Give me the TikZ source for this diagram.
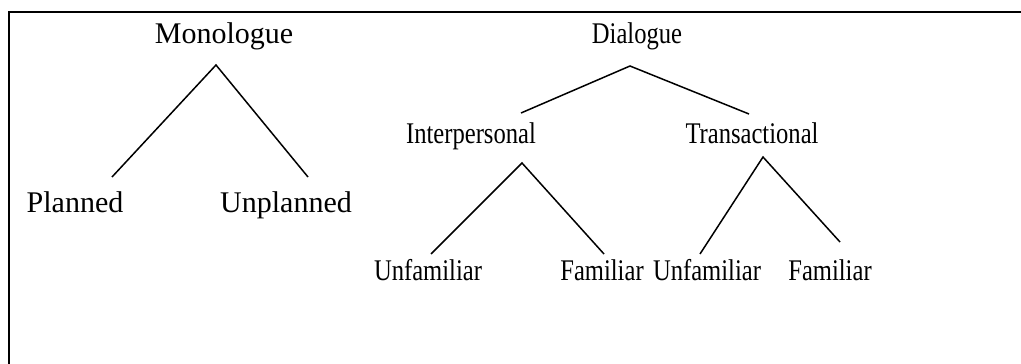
\documentclass[tikz,border=0pt]{standalone}
\usepackage{fontspec}
\setmainfont{Liberation Serif}
\begin{document}
\begin{tikzpicture}[x=1pt,y=-1pt,
  lbl/.style={anchor=base,inner sep=0pt,font=\fontsize{30}{36}\selectfont},
  edge/.style={line width=1.5pt},
  frame/.style={line width=2.6pt}]
\useasboundingbox (0,0) rectangle (1021,364);
% frame (left and top)
\coordinate (fbl) at (9,364);
\coordinate (ftl) at (9,12);
\coordinate (ftr) at (1021,12);
\draw[frame] (fbl) -- (ftl) -- (ftr);
% Monologue tree
\node[lbl] (mono) at (224,43) {Monologue};
\node[lbl] (planned) at (75,212) {Planned};
\node[lbl] (unplanned) at (286,212) {Unplanned};
\coordinate (monoj) at (216,65);
\coordinate (plannedt) at (112,177);
\coordinate (unplannedt) at (308,177);
\draw[edge] (plannedt) -- (monoj) -- (unplannedt);
% Dialogue tree
\newcommand\sq[1]{\scalebox{0.82}[1]{#1}}
\node[lbl] (dia) at (637,43) {\sq{Dialogue}};
\node[lbl] (inter) at (471,143) {\sq{Interpersonal}};
\node[lbl] (trans) at (752,143) {\sq{Transactional}};
\coordinate (diaj) at (630,66);
\coordinate (intert) at (521,113);
\coordinate (transt) at (749,114);
\draw[edge] (intert) -- (diaj) -- (transt);
\node[lbl] (unf1) at (428,280) {\sq{Unfamiliar}};
\node[lbl] (fam1) at (602,280) {\sq{Familiar}};
\node[lbl] (unf2) at (707,280) {\sq{Unfamiliar}};
\node[lbl] (fam2) at (830,280) {\sq{Familiar}};
\coordinate (interj) at (522,163);
\coordinate (unf1t) at (431,254);
\coordinate (fam1t) at (604,254);
\draw[edge] (unf1t) -- (interj) -- (fam1t);
\coordinate (transj) at (763,157);
\coordinate (unf2t) at (700,254);
\coordinate (fam2t) at (840,242);
\draw[edge] (unf2t) -- (transj) -- (fam2t);
\end{tikzpicture}
\end{document}
